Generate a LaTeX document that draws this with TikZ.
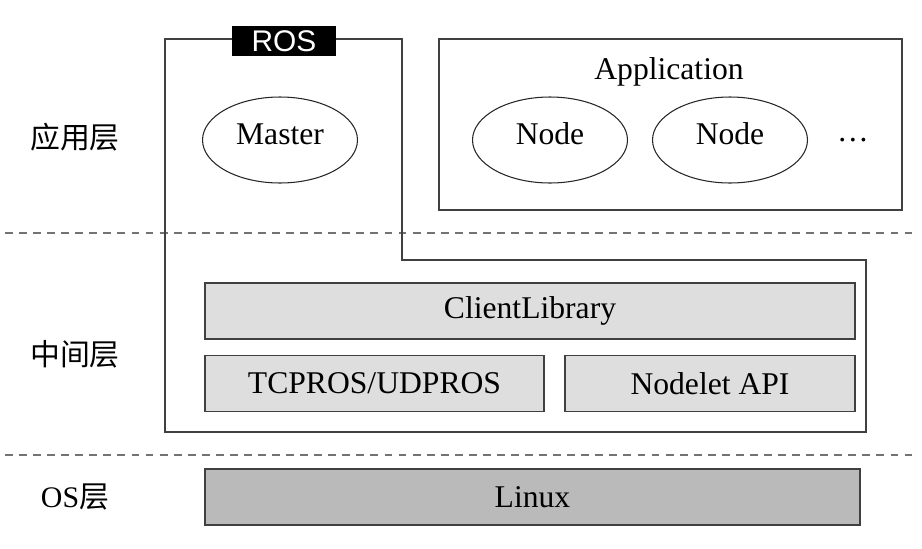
\documentclass[tikz,border=0pt]{standalone}
\usepackage{fontspec}
\setmainfont{Liberation Serif}
\newfontfamily\cjkfont{Noto Sans CJK SC}
\newfontfamily\rosfont{Liberation Sans}
\newfontfamily\latinfont{Liberation Serif}
\usetikzlibrary{shapes.geometric}

\tikzset{
  frame/.style={draw=black!75, line width=0.7pt},
  libbox/.style={frame, fill=black!13, minimum height=1.12cm, inner sep=0pt},
  osbox/.style={frame, fill=black!27, minimum height=1.12cm, inner sep=0pt},
  procnode/.style={ellipse, draw=black!85, line width=0.6pt, minimum width=3.1cm, minimum height=1.72cm, inner sep=0pt, text depth=0.25cm},
  layername/.style={font=\cjkfont\fontsize{17}{20}\selectfont},
  sepline/.style={draw=black!55, line width=0.8pt, dash pattern=on 4.5pt off 3.5pt}
}

\begin{document}
\begin{tikzpicture}[x=0.02cm, y=-0.02cm, every node/.style={font=\fontsize{18}{21}\selectfont}]
    \useasboundingbox (0,0) rectangle (922,548);

    % Schichten-Trennlinien
    \draw[sepline] (5,233) -- (917,233);
    \draw[sepline] (5,455) -- (917,455);

    % Schichtnamen
    \node[layername] (applayer) at (75,137) {应用层};
    \node[layername] (midlayer) at (75,354) {中间层};
    \node[layername] (oslayer) at (75,497) {{\latinfont OS}层};

    % ROS Rahmen (mit Stufe)
    \draw[frame] (165,39) -- (402,39) -- (402,260) -- (866,260) -- (866,432) -- (165,432) -- cycle;
    \node[fill=black, text=white, font=\rosfont\fontsize{17}{20}\selectfont, minimum width=2.08cm, minimum height=0.6cm, inner sep=0pt] (roslabel) at (284,41) {ROS};

    % Master
    \node[procnode] (master) at (280,140) {Master};

    % Application
    \draw[frame] (439,39) rectangle (902,210);
    \node (apptitle) at (669,72) {Application};
    \node[procnode] (node1) at (550,140) {Node};
    \node[procnode] (node2) at (730,140) {Node};
    \node[anchor=base] (more) at (853,141) {…};

    % Mittelschicht
    \node[libbox, minimum width=13cm] (client) at (530,311) {ClientLibrary};
    \node[libbox, minimum width=6.78cm] (tcpros) at (374.5,383.5) {TCPROS/UDPROS};
    \node[libbox, minimum width=5.8cm] (nodelet) at (710,383.5) {Nodelet API};

    % Betriebssystem
    \node[osbox, minimum width=13.1cm] (linux) at (532.5,497) {Linux};
\end{tikzpicture}
\end{document}
